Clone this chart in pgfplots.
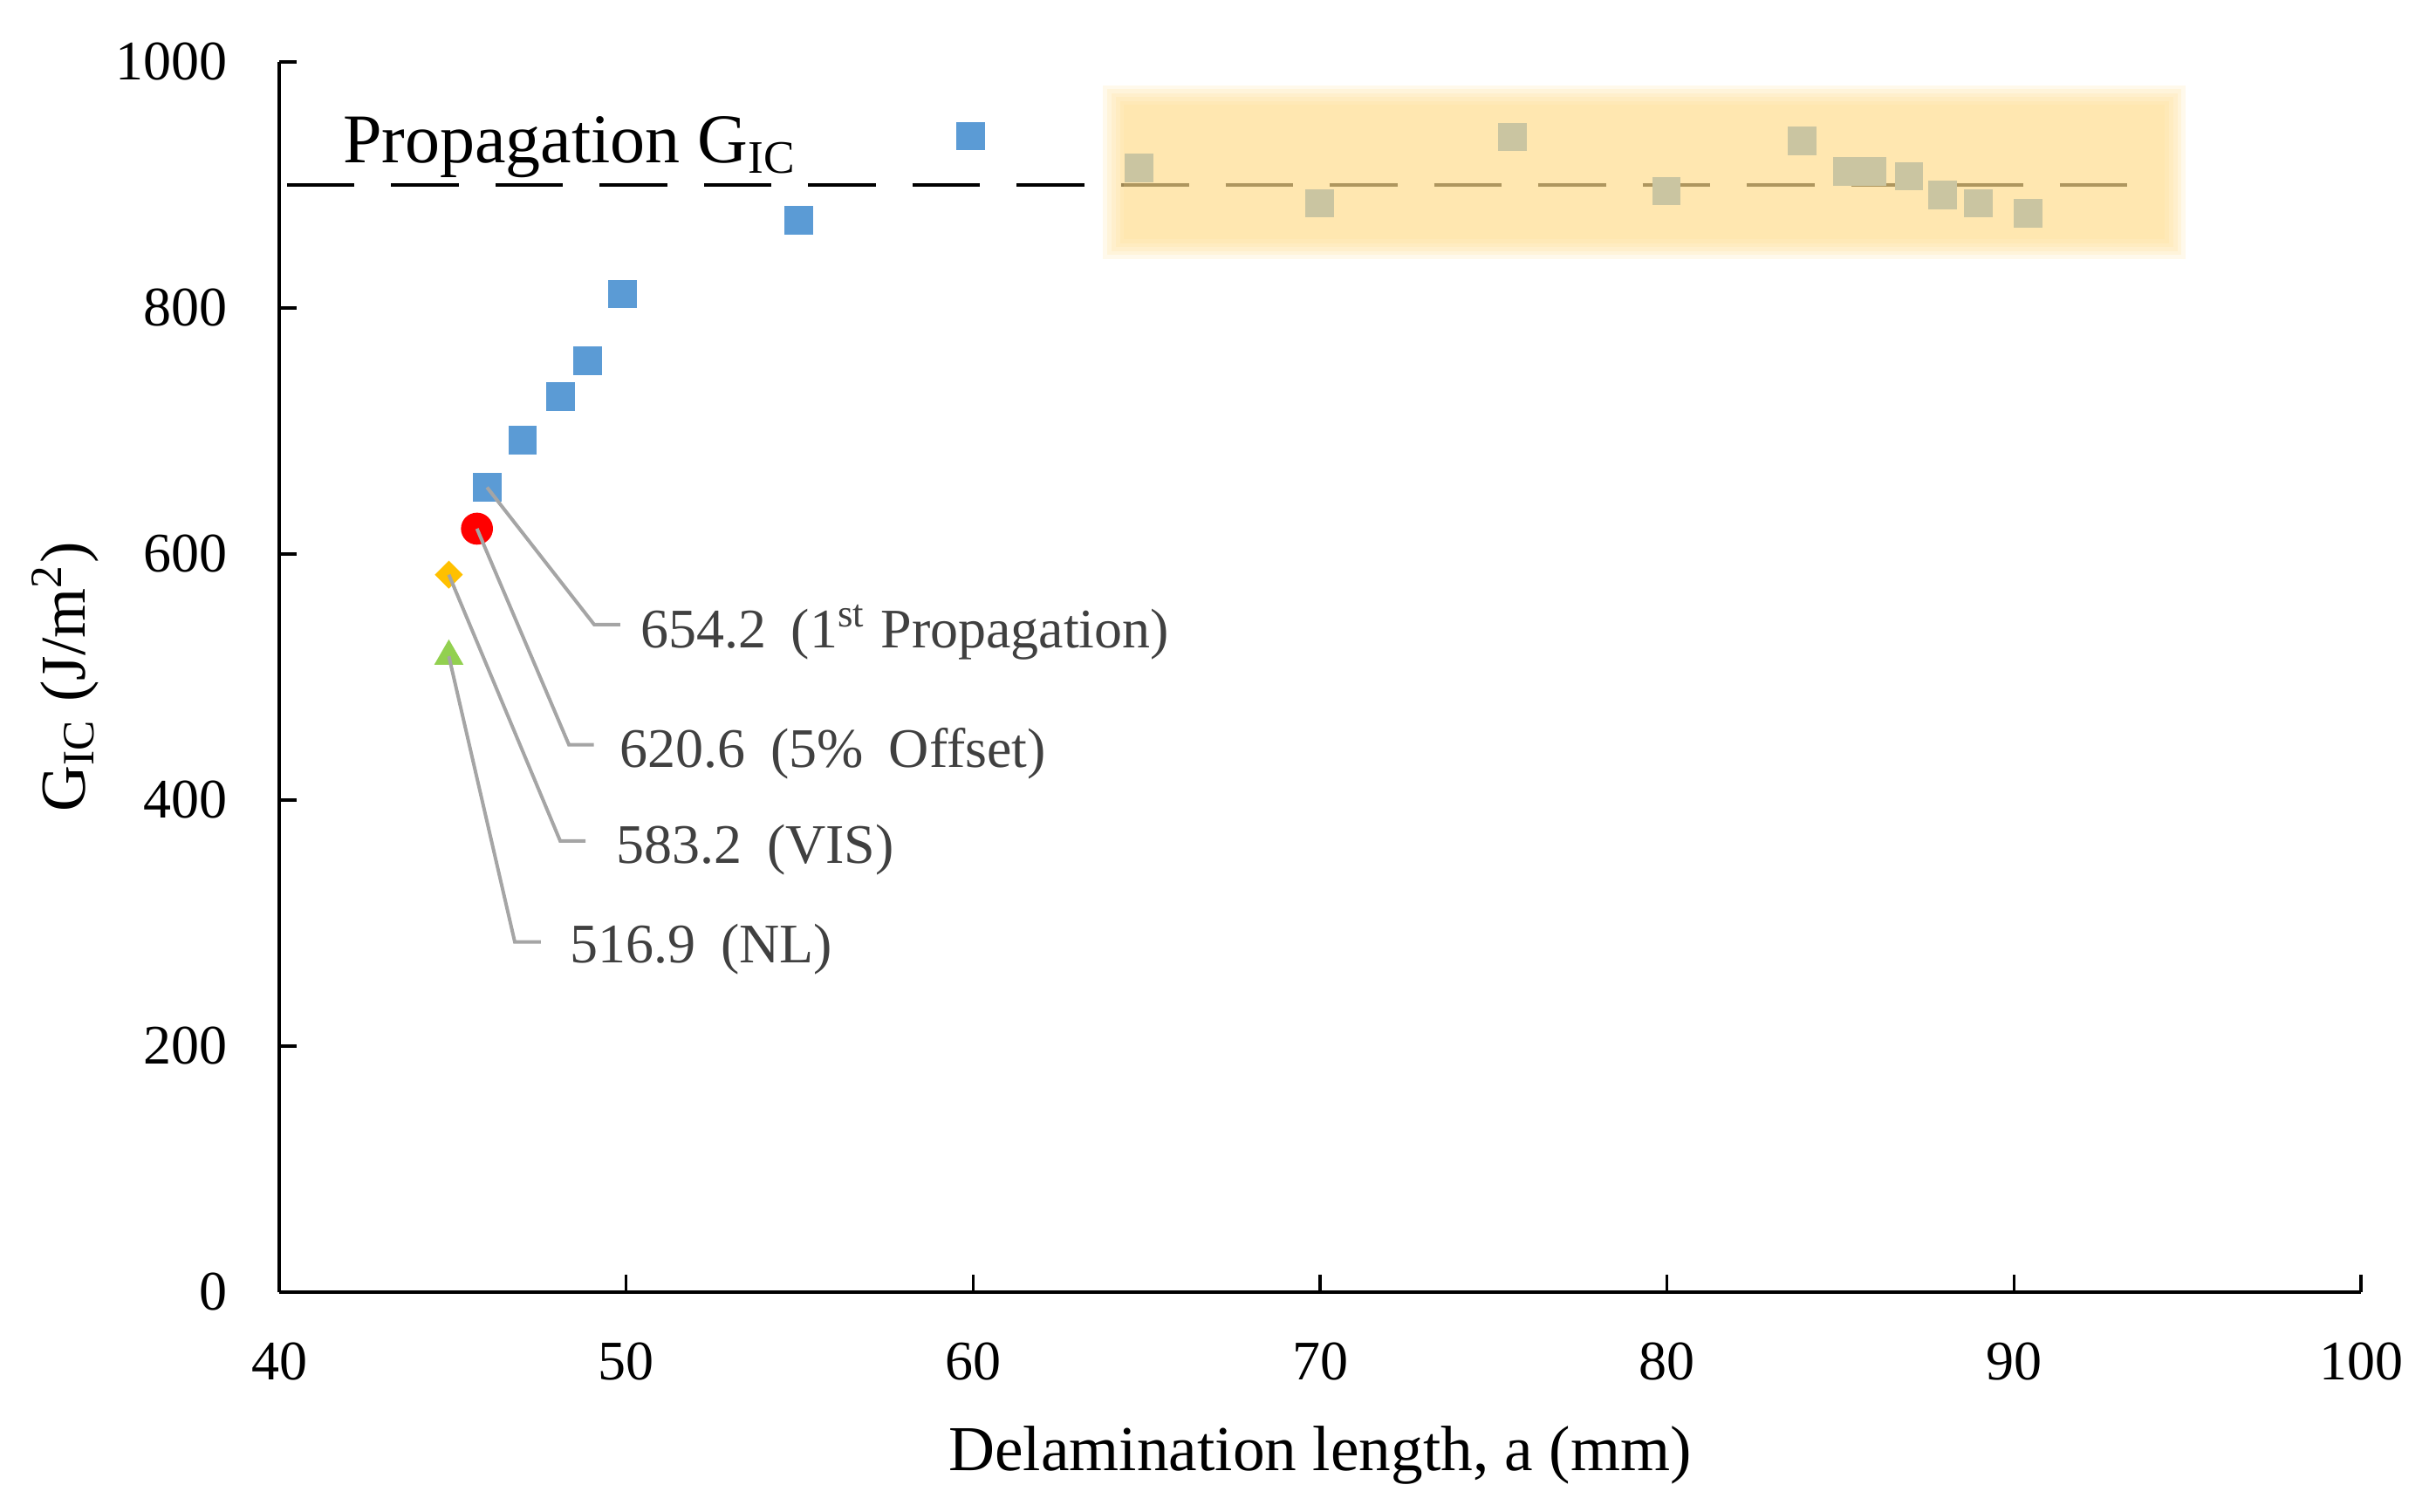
\documentclass[border=0pt]{standalone}
\usepackage{fontspec}
\setmainfont{Liberation Serif}
\usepackage{pgfplots}
\pgfplotsset{compat=1.18}
\definecolor{gblue}{RGB}{91,155,213}
\definecolor{gred}{RGB}{255,0,0}
\definecolor{gyel}{RGB}{255,192,0}
\definecolor{ggreen}{RGB}{146,208,80}
\definecolor{hl}{RGB}{255,220,140}
\definecolor{lead}{RGB}{165,165,165}
\definecolor{anno}{RGB}{64,64,64}
\newcommand\ws{\hspace{0.45em}}
\begin{document}
\begin{tikzpicture}
\begin{axis}[
  set layers,
  scale only axis, width=357.9pt, height=211.5pt,
  xmin=40, xmax=100, ymin=0, ymax=1000,
  xtick={40,50,...,100}, ytick={0,200,...,1000},
  axis lines*=left, tick align=inside,
  major tick length=3pt,
  axis line style={line width=0.5pt, black},
  every tick/.style={black, line width=0.5pt},
  tick label style={font=\fontsize{9.6}{11}\selectfont, inner sep=0pt},
  /pgf/number format/assume math mode=true,
  /pgf/number format/1000 sep={},
  yticklabel style={anchor=east, xshift=-8.7pt},
  xticklabel style={anchor=north, yshift=-8.55pt},
  xlabel={Delamination length, a (mm)},
  ylabel={G\textsubscript{IC} (J/m\textsuperscript{2})},
  xlabel style={at={(axis description cs:0.5,-0.1447)}, anchor=base, font=\fontsize{11}{13}\selectfont, inner sep=0pt},
  ylabel style={at={(axis description cs:-0.09346,0.5)}, anchor=base, font=\fontsize{11}{13}\selectfont, inner sep=0pt},
  clip=false,
  hlbox/.style={hl, fill=hl, fill opacity=0.175, draw=none, no marks, on layer=axis foreground},
  leader/.style={lead, line width=0.6pt, no marks, on layer=axis foreground},
]
% propagation level line
\addplot[black, line width=0.7pt, dash pattern=on 11.63pt off 6.3pt, no marks] coordinates {(40.22,900) (93.26,900)};
% measured G_IC
\addplot[only marks, gblue, mark=square*, mark size=2.25pt, mark options={draw=none}] coordinates {
(45.99,654.2) (47.02,692.7) (48.11,728.0) (48.89,757.0) (49.90,811.3) (54.97,871.1) (59.93,939.7)
(64.79,914) (69.99,885) (75.55,939) (79.98,895) (83.9,936) (85.2,911) (85.9,911) (86.97,907) (87.95,892) (88.97,885) (90.4,877)
};
\addplot[only marks, gred, mark=*, mark size=2.55pt, mark options={draw=none}] coordinates {(45.70,620.6)};
\addplot[only marks, gyel, mark=square*, mark size=1.5pt, mark options={draw=none, rotate=45}] coordinates {(44.89,583.2)};
\addplot[only marks, ggreen, mark=triangle*, mark size=2.5pt, mark options={draw=none}] coordinates {(44.89,516.9)};
% leader lines
\addplot[leader] coordinates {(45.99,654.2) (49.08,542.6) (49.83,542.6)};
\addplot[leader] coordinates {(45.70,620.6) (48.35,445) (49.07,445)};
\addplot[leader] coordinates {(44.89,583.2) (48.10,366.7) (48.83,366.7)};
\addplot[leader] coordinates {(44.89,516.9) (46.79,284.7) (47.54,284.7)};
% highlighted plateau region (soft edged, translucent)
\addplot[hlbox] coordinates {(63.75,840) (94.95,840) (94.95,981) (63.75,981)} -- cycle;
\addplot[hlbox] coordinates {(63.87,843.2) (94.83,843.2) (94.83,977.8) (63.87,977.8)} -- cycle;
\addplot[hlbox] coordinates {(63.99,846.4) (94.71,846.4) (94.71,974.6) (63.99,974.6)} -- cycle;
\addplot[hlbox] coordinates {(64.11,849.6) (94.59,849.6) (94.59,971.4) (64.11,971.4)} -- cycle;
\addplot[hlbox] coordinates {(64.23,852.8) (94.47,852.8) (94.47,968.2) (64.23,968.2)} -- cycle;
\addplot[hlbox] coordinates {(64.35,856) (94.35,856) (94.35,965) (64.35,965)} -- cycle;
% annotations
\node[anchor=base west, inner sep=0pt, text=anno, font=\fontsize{9.6}{11}\selectfont] at (axis cs:50.38,523.8) {654.2\ws(1\textsuperscript{st} Propagation)};
\node[anchor=base west, inner sep=0pt, text=anno, font=\fontsize{9.6}{11}\selectfont] at (axis cs:49.79,426.7) {620.6\ws(5\%\ws Offset)};
\node[anchor=base west, inner sep=0pt, text=anno, font=\fontsize{9.6}{11}\selectfont] at (axis cs:49.68,348.8) {583.2\ws(VIS)};
\node[anchor=base west, inner sep=0pt, text=anno, font=\fontsize{9.6}{11}\selectfont] at (axis cs:48.35,267.9) {516.9\ws(NL)};
\node[anchor=base west, inner sep=0pt, font=\fontsize{12}{14}\selectfont] at (axis cs:41.81,918.4) {Propagation G\textsubscript{IC}};
\end{axis}
\path (-48pt,-37.65pt) rectangle (369.6pt,222.15pt);
\end{tikzpicture}
\end{document}
